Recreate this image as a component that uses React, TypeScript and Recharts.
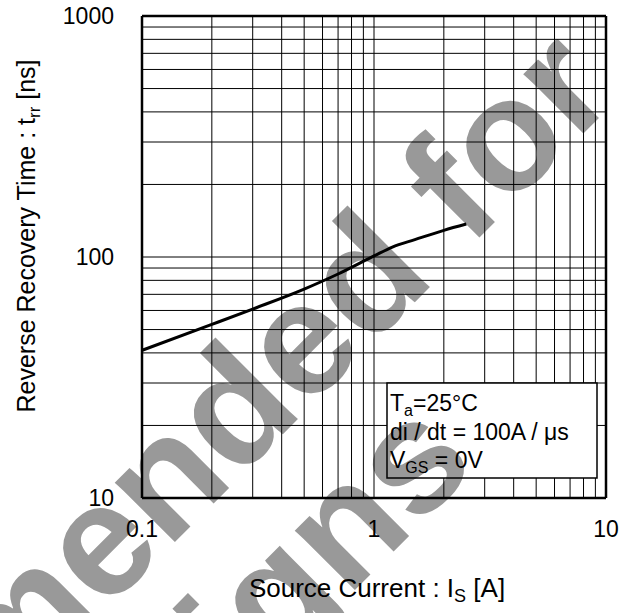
import React from "react";
import { LineChart, Line, XAxis, YAxis, ReferenceLine } from "recharts";

const FONT = "'Liberation Sans', Arial, Helvetica, sans-serif";

// Is [A] vs trr [ns]
const sourceCurrent = [0.1, 0.2, 0.3, 0.5, 0.7, 1, 1.2, 1.5, 2, 2.5];
const recoveryTime = [41, 52.5, 60.8, 73.6, 85, 101, 110, 118, 129, 137];

const xTicks = [0.1, 1, 10];
const yTicks = [10, 100, 1000];
const xGrid = [0.2, 0.3, 0.4, 0.5, 0.6, 0.7, 0.8, 0.9, 1, 2, 3, 4, 5, 6, 7, 8, 9];
const yGrid = [20, 30, 40, 50, 60, 70, 80, 90, 100, 200, 300, 400, 500, 600, 700, 800, 900];

const data = sourceCurrent.map((x, i) => ({ x, trr: recoveryTime[i] }));

function XTick(props: any) {
  return (
    <text x={props.x} y={props.y + 39} textAnchor="middle" fontSize={23} fontFamily={FONT} fill="#000">
      {String(props.payload.value)}
    </text>
  );
}

function YTick(props: any) {
  return (
    <text x={props.x - 28} y={props.y + 8} textAnchor="end" fontSize={23} fontFamily={FONT} fill="#000">
      {String(props.payload.value)}
    </text>
  );
}

function Watermark() {
  return (
    <g fill="#999" fontFamily={FONT} fontWeight="bold" fontSize={160}>
      <text x={13} y={704} textAnchor="middle" transform="rotate(-45 13 704)">
        Not Recommended for
      </text>
      <text x={127} y={818} textAnchor="middle" transform="rotate(-45 127 818)">
        New Designs
      </text>
    </g>
  );
}

export default function App() {
  const box = { x: 387, y: 383, w: 210, h: 95 };
  return (
    <div style={{ position: "absolute", left: 0, top: 0, width: 626, height: 613, background: "#fff", overflow: "hidden" }}>
      <svg width={626} height={613} style={{ position: "absolute", left: 0, top: 0 }}>
        <Watermark />
      </svg>
      <div style={{ position: "absolute", left: 0, top: 0 }}>
        <LineChart width={626} height={613} data={data} margin={{ top: 16, right: 20, bottom: 0, left: 0 }}>
          <XAxis
            dataKey="x"
            type="number"
            scale="log"
            domain={[0.1, 10]}
            ticks={xTicks}
            allowDataOverflow
            height={115}
            tickSize={0}
            tickMargin={0}
            tickLine={false}
            axisLine={false}
            tick={<XTick />}
          />
          <YAxis
            type="number"
            scale="log"
            domain={[10, 1000]}
            ticks={yTicks}
            allowDataOverflow
            width={142}
            tickSize={0}
            tickMargin={0}
            tickLine={false}
            axisLine={false}
            tick={<YTick />}
          />
          {xGrid.map((v) => (
            <ReferenceLine key={"gx" + v} x={v} stroke="#000" strokeWidth={1} />
          ))}
          {yGrid.map((v) => (
            <ReferenceLine key={"gy" + v} y={v} stroke="#000" strokeWidth={1} />
          ))}
          <Line
            dataKey="trr"
            type="monotone"
            stroke="#000"
            strokeWidth={3}
            dot={false}
            isAnimationActive={false}
          />
          {/* frame */}
          <ReferenceLine x={0.1} stroke="#000" strokeWidth={2.5} />
          <ReferenceLine x={10} stroke="#000" strokeWidth={2.5} />
          <ReferenceLine y={10} stroke="#000" strokeWidth={2.5} />
          <ReferenceLine y={1000} stroke="#000" strokeWidth={2.5} />
        </LineChart>
      </div>
      <svg width={626} height={613} style={{ position: "absolute", left: 0, top: 0, pointerEvents: "none" }}>
        <defs>
          <clipPath id="boxClip">
            <rect x={box.x} y={box.y} width={box.w} height={box.h} />
          </clipPath>
        </defs>
        <rect x={box.x} y={box.y} width={box.w} height={box.h} fill="#fff" />
        <g clipPath="url(#boxClip)">
          <Watermark />
        </g>
        <rect x={box.x} y={box.y} width={box.w} height={box.h} fill="none" stroke="#000" strokeWidth={1.5} />
        <g fontFamily={FONT} fontSize={23} fill="#000">
          <text x={390} y={411}>
            T<tspan fontSize={16} dy={5}>a</tspan>
            <tspan dy={-5}>=25°C</tspan>
          </text>
          <text x={390} y={440}>di / dt = 100A / μs</text>
          <text x={390} y={468}>
            V<tspan fontSize={16} dy={5}>GS</tspan>
            <tspan dy={-5}> = 0V</tspan>
          </text>
        </g>
        <text
          x={35}
          y={236}
          textAnchor="middle"
          transform="rotate(-90 35 236)"
          fontFamily={FONT}
          fontSize={25}
          fill="#000"
        >
          Reverse Recovery Time : t<tspan fontSize={17} dy={5}>rr</tspan>
          <tspan dy={-5}> [ns]</tspan>
        </text>
        <text x={377} y={597} textAnchor="middle" fontFamily={FONT} fontSize={26} fill="#000">
          Source Current : I<tspan fontSize={18} dy={5}>S</tspan>
          <tspan dy={-5}> [A]</tspan>
        </text>
      </svg>
    </div>
  );
}
